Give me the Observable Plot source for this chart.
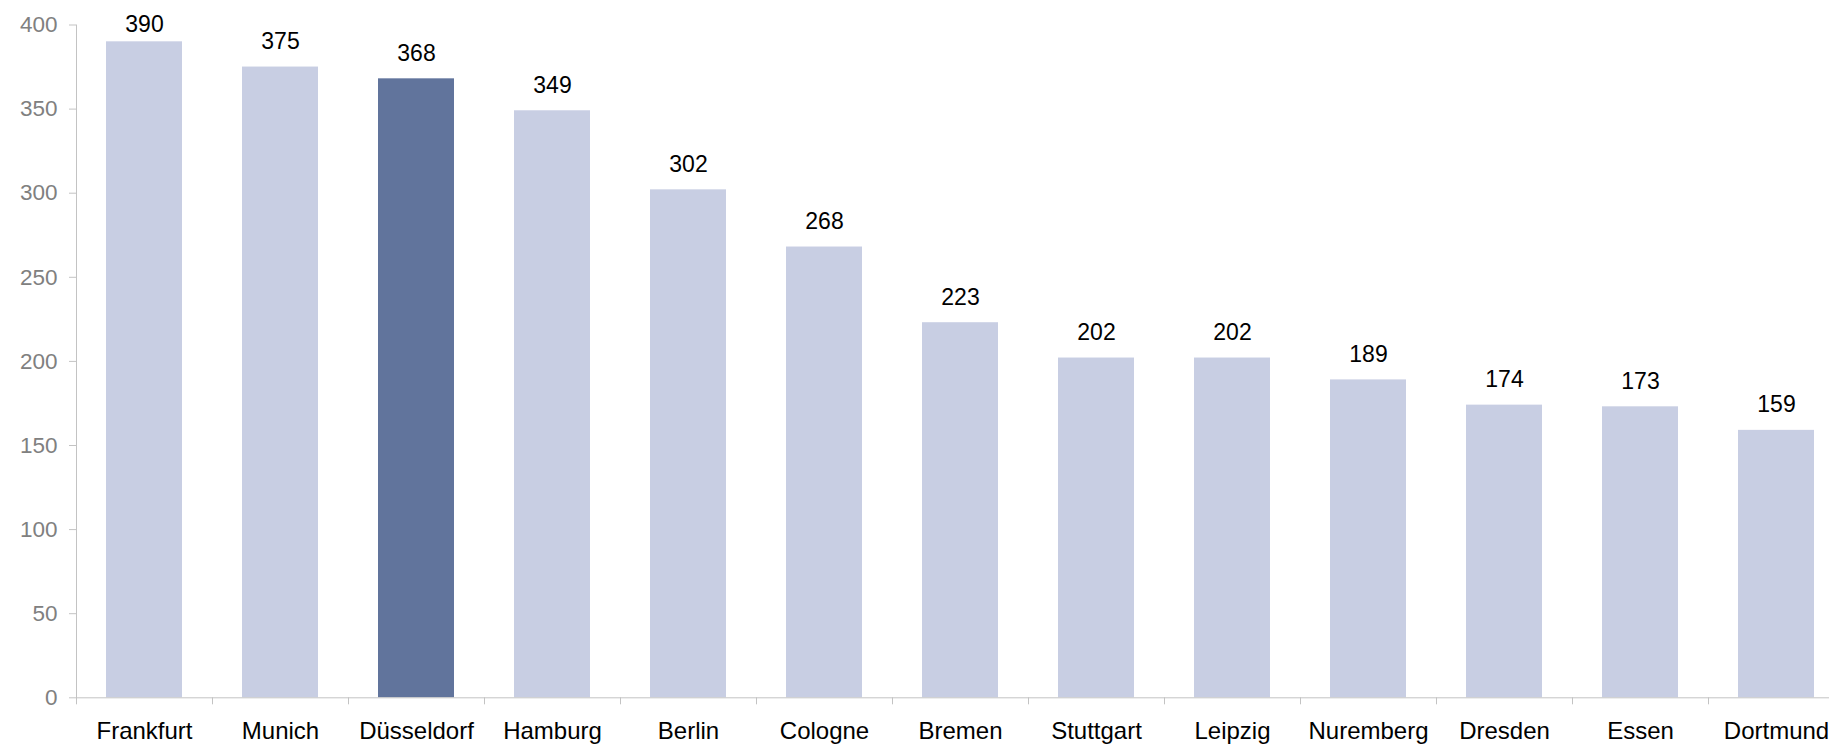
<!DOCTYPE html>
<html>
<head>
<meta charset="utf-8">
<script src="https://cdn.jsdelivr.net/npm/d3@7"></script>
<script src="https://cdn.jsdelivr.net/npm/@observablehq/plot@0.6"></script>
<style>
  html, body { margin: 0; padding: 0; background: #fff; overflow: hidden; }
  #chart { width: 1829px; height: 745px; overflow: hidden; }
  #chart svg { max-width: none !important; }
</style>
</head>
<body>
<div id="chart"></div>
<script>
const cities = ["Frankfurt", "Munich", "Düsseldorf", "Hamburg", "Berlin", "Cologne", "Bremen", "Stuttgart", "Leipzig", "Nuremberg", "Dresden", "Essen", "Dortmund"];
const values = [390, 375, 368, 349, 302, 268, 223, 202, 202, 189, 174, 173, 159];
const highlight = ["Düsseldorf"];
const yTicks = [0, 50, 100, 150, 200, 250, 300, 350, 400];

const data = cities.map((c, i) => ({city: c, value: values[i], hi: highlight.includes(c)}));

const width = 1844, height = 745;
const marginLeft = 76, marginRight = 0, marginTop = 24.5, marginBottom = 47.7;
const step = (width - marginLeft - marginRight) / cities.length;
const frameH = height - marginTop - marginBottom;
const yMax = yTicks[yTicks.length - 1];
const axisColor = "#c3c3c3";
const font = "'Liberation Sans', Arial, sans-serif";

const chart = Plot.plot({
  width, height, marginLeft, marginRight, marginTop, marginBottom,
  style: {fontFamily: font, background: "#fff", maxWidth: "none"},
  x: {domain: cities, paddingInner: 0.44, paddingOuter: 0.22, axis: null},
  y: {domain: [0, yMax], axis: null},
  marks: [
    Plot.barY(data, {x: "city", y: "value", fill: d => d.hi ? "#61749c" : "#c8cee3"}),
    Plot.frame({anchor: "left", stroke: axisColor}),
    Plot.frame({anchor: "bottom", stroke: axisColor}),
    Plot.axisY({ticks: yTicks, tickSize: 7, tickPadding: 12, stroke: axisColor, fill: "#808080", fontSize: 22.5, fontFamily: font, label: null}),
    Plot.ruleX(cities, {x: d => d, dx: -step / 2, stroke: axisColor, insetTop: frameH, insetBottom: -7}),
    Plot.text(cities, {x: d => d, frameAnchor: "bottom", lineAnchor: "top", dy: 24, fill: "#000", fontSize: 24, fontFamily: font}),
    Plot.text(data, {x: "city", y: d => Math.min(d.value, yMax - 15), text: d => String(d.value), lineAnchor: "bottom", dy: -18, fill: "#000", fontSize: 23, fontFamily: font})
  ]
});
document.getElementById("chart").appendChild(chart);
</script>
</body>
</html>
